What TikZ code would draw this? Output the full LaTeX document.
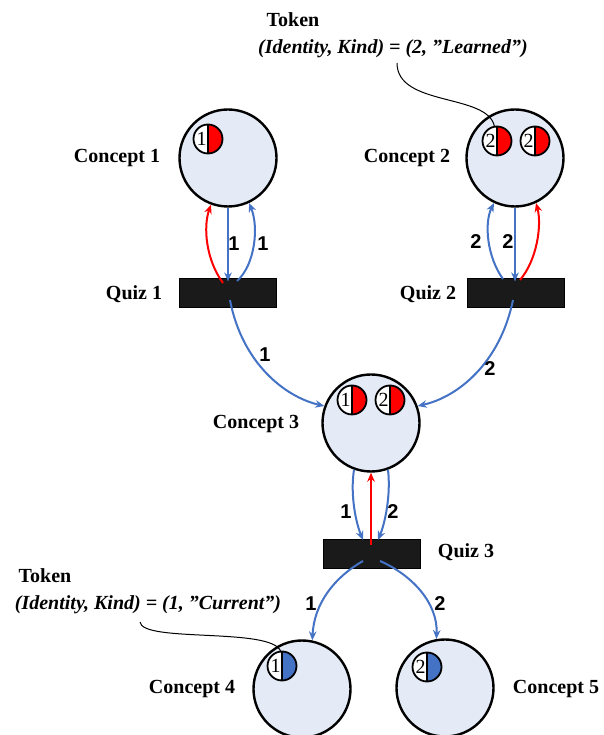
\documentclass[tikz,border=0pt]{standalone}
\usepackage{fontspec}
\setmainfont{Liberation Serif}
\newfontfamily\arcfont{Liberation Sans}
\usetikzlibrary{arrows.meta}
\definecolor{cfill}{HTML}{E4EBF6}
\definecolor{arcblue}{HTML}{4472C4}
\definecolor{barfill}{HTML}{1A1A1A}
% token: name, position, number, colour of the right half
\newcommand{\tokendot}[4]{%
\node[token] (#1) at (#2) {};
\fill[#4] (#1.north) arc[start angle=90,end angle=-90,radius=14.5pt] -- cycle;
\draw[line width=1.8pt] (#1) circle[radius=14.5pt];
\draw[line width=1.8pt] (#1.north) -- (#1.south);
\node[tokennum] at ([xshift=-6.5pt]#1) {#3};
}
\begin{document}
\begin{tikzpicture}[x=1pt,y=1pt,
  concept/.style={circle,draw,line width=2.4pt,fill=cfill,minimum size=97pt,inner sep=0pt},
  quiz/.style={rectangle,draw,line width=1pt,fill=barfill,minimum width=97pt,minimum height=29pt,inner sep=0pt},
  token/.style={circle,fill=white,minimum size=29pt,inner sep=0pt},
  tokennum/.style={font=\fontsize{20}{20}\selectfont,inner sep=0pt},
  lbl/.style={font=\fontsize{20}{22}\selectfont\bfseries,inner sep=0pt},
  tup/.style={font=\fontsize{20}{22}\selectfont\bfseries\itshape,inner sep=0pt},
  num/.style={font=\fontsize{20}{20}\selectfont\arcfont\bfseries,inner sep=0pt},
  barc/.style={draw=arcblue,line width=2pt,-{Stealth[length=9pt,width=7.5pt]}},
  rarc/.style={draw=red,line width=2pt,-{Stealth[length=9pt,width=7.5pt]}},
  pin/.style={draw=black,line width=1pt}]
\useasboundingbox (0,0) rectangle (603,735);
% places
\node[concept] (c1) at (228,577) {};
\node[concept] (c2) at (515,577) {};
\node[concept] (c3) at (371,312) {};
\node[concept] (c4) at (302,46) {};
\node[concept] (c5) at (445,47) {};
\node[lbl] (c1l) at (117,577) {Concept 1};
\node[lbl] (c2l) at (407,577) {Concept 2};
\node[lbl] (c3l) at (256,311) {Concept 3};
\node[lbl] (c4l) at (192,46) {Concept 4};
\node[lbl] (c5l) at (556,46) {Concept 5};
% transitions
\node[quiz] (q1) at (227.5,441.5) {};
\node[quiz] (q2) at (515.5,441.5) {};
\node[quiz] (q3) at (371.5,181) {};
\node[lbl] (q1l) at (134,441) {Quiz 1};
\node[lbl] (q2l) at (428,441) {Quiz 2};
\node[lbl] (q3l) at (466,183) {Quiz 3};
% tokens
\tokendot{t1}{208,596}{1}{red}
\tokendot{t2a}{497,594}{2}{red}
\tokendot{t2b}{535,594}{2}{red}
\tokendot{t3a}{352,335}{1}{red}
\tokendot{t3b}{390,335}{2}{red}
\tokendot{t4}{282,69}{1}{arcblue}
\tokendot{t5}{427,68}{2}{arcblue}
% concept 1 / quiz 1
\coordinate (q1a) at (223,452);
\coordinate (q1b) at (237,454);
\draw[barc] (c1.south) -- ([yshift=-3pt]c1.south |- q1.north);
\draw[rarc] (q1a) .. controls (206,475) and (203,508) .. (c1.250);
\draw[barc] (q1b) .. controls (255,470) and (259,508) .. (c1.295);
\node[num] at (234,491) {1};
\node[num] at (263,491) {1};
% concept 2 / quiz 2
\coordinate (q2a) at (503,456);
\coordinate (q2b) at (520,455);
\draw[barc] (q2a) .. controls (487,478) and (484,512) .. (c2.245);
\draw[barc] (c2.south) -- ([yshift=-3pt]c2.south |- q2.north);
\draw[rarc] (q2b) .. controls (537,475) and (542,510) .. (c2.295);
\node[num] at (476,493) {2};
\node[num] at (508,493) {2};
% quiz 1, quiz 2 to concept 3
\coordinate (q1o) at (230,435);
\coordinate (q2o) at (513,435);
\draw[barc] (q1o) .. controls (242,372) and (285,338) .. (c3.160);
\draw[barc] (q2o) .. controls (500,372) and (458,338) .. (c3.20);
\node[num] at (265,380) {1};
\node[num] at (490,366) {2};
% concept 3 / quiz 3
\coordinate (q3a) at (363,195);
\coordinate (q3b) at (378,195);
\coordinate (q3r) at (371,190);
\draw[barc] (c3.250) .. controls (350,240) and (356,212) .. (q3a);
\draw[barc] (c3.290) .. controls (391,240) and (385,212) .. (q3b);
\draw[rarc] (q3r) -- (c3.south);
\node[num] at (346,223) {1};
\node[num] at (393,223) {2};
% quiz 3 to concept 4, 5
\coordinate (q3c) at (363,174);
\coordinate (q3d) at (380,174);
\draw[barc] (q3c) .. controls (335,158) and (314,132) .. (c4.78);
\draw[barc] (q3d) .. controls (412,160) and (438,132) .. (c5.100);
\node[num] at (311,131) {1};
\node[num] at (440,131) {2};
% token notes
\node[lbl] (tk1) at (293,715) {Token};
\node[tup] (tk1v) at (393,686) {(Identity, Kind) = (2, ”Learned”)};
\node[lbl] (tk2) at (45,159) {Token};
\node[tup] (tk2v) at (148,130) {(Identity, Kind) = (1, ”Current”)};
\coordinate (p1) at (397,672);
\coordinate (p2) at (140,113);
\draw[pin] (p1) .. controls (397,628) and (488,642) .. (t2a.100);
\draw[pin] (p2) .. controls (142,92) and (272,108) .. (t4.95);
\end{tikzpicture}
\end{document}
